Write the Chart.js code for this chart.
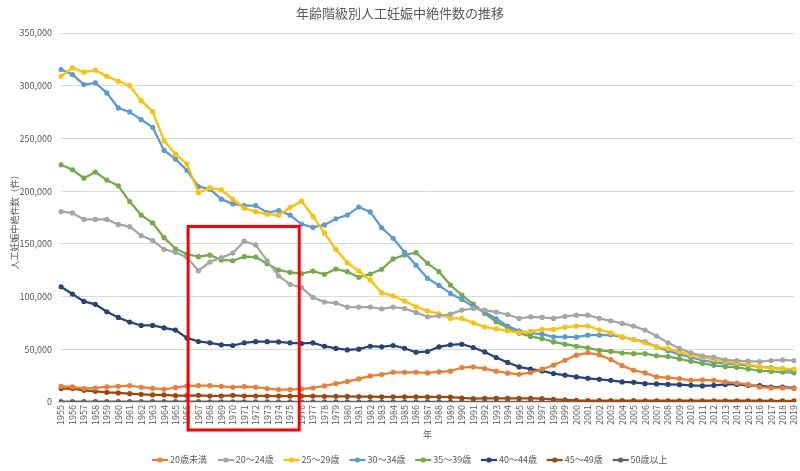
<!DOCTYPE html>
<html lang="ja">
<head>
<meta charset="utf-8">
<script src="https://cdn.jsdelivr.net/npm/chart.js@4.4.1/dist/chart.umd.min.js"></script>
<style>
html,body{margin:0;padding:0;background:#fff;}
#wrap{width:800px;height:471px;position:relative;}
</style>
</head>
<body>
<div id="wrap"><canvas id="c" width="800" height="471"></canvas></div>
<script>
const years = [];
for (let y = 1955; y <= 2019; y++) years.push(String(y));

const seriesNames = ["20歳未満","20～24歳","25～29歳","30～34歳","35～39歳","40～44歳","45～49歳","50歳以上"];
const seriesColors = ["#ED7D31","#A5A5A5","#FFC000","#5B9BD5","#70AD47","#264478","#9E480E","#636363"];

const under20 = [14900,14300,12700,13300,14300,14900,15600,14000,13000,12100,13700,15200,15600,15600,14900,14000,14600,14000,12700,11800,11800,12400,13300,15200,17500,19400,21900,24700,26000,28200,28200,28200,27600,28500,29200,32700,33300,31700,29200,27300,26300,27900,31100,34900,39600,44400,46600,44700,40300,34500,30100,27600,23800,23100,22200,20600,20900,20600,19000,18000,16700,14200,13300,13300,12700];
const age20_24 = [180600,179300,173200,173200,173200,168400,166300,157800,153100,144800,142000,137200,124500,132800,136900,141300,152500,149000,133900,119500,111600,108400,99200,94800,93800,90000,90000,90000,88400,90000,88700,85000,80800,81800,83400,87200,88800,87200,85300,83000,79300,80800,80200,79300,81200,82400,82400,79300,77000,74500,72000,68200,62500,56100,50800,46600,43700,42500,39900,39300,38700,38400,39300,39900,39300];
const age25_29 = [309000,316900,312800,314700,309000,304200,300100,285800,275400,247800,235200,225700,198700,203100,201200,192400,183800,180600,178100,177200,184500,190500,176200,160100,144900,132100,124200,115700,103600,100800,95700,90300,86500,83700,79300,79300,75100,71300,69400,67500,65900,66900,68800,68800,71000,72000,72000,68500,65600,61800,59300,56100,52300,50700,47600,44400,42200,40300,38100,37100,35800,33300,32400,31700,31100];
const age30_34 = [315300,310600,301100,302700,293200,278900,275100,267800,260500,238600,230400,219600,204400,201900,192400,188000,186300,186300,179600,181600,177300,168700,165700,168000,173800,177300,184900,180300,165300,155300,142000,129700,117300,110600,103000,97300,90300,85300,78900,72000,67500,65300,64300,61800,61800,61500,63400,63400,63700,61500,59300,57000,52300,48500,45300,42200,39600,37700,36400,35800,34800,33300,32600,31100,29500];
const age35_39 = [225000,220300,212300,218100,210500,205100,190100,177300,169900,155900,145200,140400,137800,139400,134700,134000,137800,137500,131200,125200,123000,121700,124200,121100,126100,123600,118300,121400,125900,135700,139500,141600,131500,123600,110900,101400,92900,84000,76100,70500,65300,62200,60200,57000,54800,52900,51300,49000,48000,46500,45800,45800,43800,43100,40900,38600,36700,34800,33500,32900,31300,29700,29000,28400,27700];
const age40_44 = [109300,102400,95400,92600,85600,80200,75800,72600,72600,70300,68200,60800,57400,56100,54200,53600,56100,57200,57200,57000,56100,55500,56100,52900,50800,49400,50100,52900,52300,53600,51000,47200,47900,52300,54200,54800,51700,47500,42200,37500,33300,31100,29500,27000,25400,23800,22500,21500,20600,19000,18700,17400,17100,16700,16400,15800,15200,15800,16700,16700,15800,15500,14200,14200,13300];
const age45_49 = [12700,12700,11100,10100,9200,8600,7900,7300,6700,6700,6000,6000,6300,5700,5700,6300,5700,5700,5700,5600,5600,5600,5600,5400,5400,5300,5100,5000,4900,4900,4900,4900,4800,4800,4600,3800,3300,3500,3500,3500,3500,3400,3200,2500,2100,1500,1400,1400,1300,1300,1300,1200,1200,1200,1200,1200,1200,1200,1200,1200,1200,1200,1100,1100,1100];
const age50plus = [400,400,400,400,400,350,350,350,300,300,300,300,300,250,250,250,250,200,200,200,200,200,150,150,150,150,150,150,120,120,120,120,100,100,100,100,80,80,80,80,70,70,60,60,50,50,50,40,40,40,40,40,30,30,30,30,30,30,30,30,30,30,30,30,30];

const seriesValues = [under20, age20_24, age25_29, age30_34, age35_39, age40_44, age45_49, age50plus];
const yTicks = [0,50000,100000,150000,200000,250000,300000,350000];

const titleText = "年齢階級別人工妊娠中絶件数の推移";
const yTitle = "人工妊娠中絶件数（件）";
const xTitle = "年";
// highlighted span (category index range and value top)
const highlight = {fromIndex: 11.1, toIndex: 20.8, topValue: 166500};

const FONT = "'Noto Sans CJK JP', 'Noto Sans', sans-serif";
const TXT = "#595959";

const datasets = seriesNames.map((n, i) => ({
  label: n,
  data: seriesValues[i],
  borderColor: seriesColors[i],
  backgroundColor: seriesColors[i],
  borderWidth: 2.25,
  pointRadius: 2.6,
  pointHoverRadius: 2.6,
  pointBorderWidth: 0,
  pointBackgroundColor: seriesColors[i],
  tension: 0,
  order: i
}));

const decor = {
  id: 'decor',
  afterDatasetsDraw(chart) {
    const ctx = chart.ctx;
    const xs = chart.scales.x, ys = chart.scales.y;
    ctx.save();
    ctx.strokeStyle = "#FF0000";
    ctx.lineWidth = 3;
    const l = xs.getPixelForValue(highlight.fromIndex);
    const r = xs.getPixelForValue(highlight.toIndex);
    const t = ys.getPixelForValue(highlight.topValue);
    const b = ys.getPixelForValue(0) + 28;
    ctx.strokeRect(l, t, r - l, b - t);
    ctx.restore();
  },
  afterDraw(chart) {
    const ctx = chart.ctx;
    const ca = chart.chartArea;
    ctx.save();
    ctx.fillStyle = TXT;
    ctx.font = "13px " + FONT;
    ctx.textAlign = "center";
    ctx.textBaseline = "middle";
    ctx.fillText(titleText, 400, 13);
    ctx.font = "9px " + FONT;
    ctx.save();
    ctx.translate(15, 220);
    ctx.rotate(-Math.PI / 2);
    ctx.fillText(yTitle, 0, 0);
    ctx.restore();
    ctx.fillText(xTitle, (ca.left + ca.right) / 2, 435);
    const step = 65.8;
    const x0 = 152;
    const ly = 460;
    ctx.textAlign = "left";
    seriesNames.forEach((n, i) => {
      const x = x0 + i * step;
      ctx.strokeStyle = seriesColors[i];
      ctx.lineWidth = 2.25;
      ctx.beginPath();
      ctx.moveTo(x, ly);
      ctx.lineTo(x + 16, ly);
      ctx.stroke();
      ctx.fillStyle = seriesColors[i];
      ctx.beginPath();
      ctx.arc(x + 8, ly, 2.6, 0, Math.PI * 2);
      ctx.fill();
      ctx.fillStyle = TXT;
      ctx.fillText(n, x + 18, ly);
    });
    ctx.restore();
  }
};

new Chart(document.getElementById('c'), {
  type: 'line',
  data: { labels: years, datasets },
  options: {
    responsive: false,
    animation: false,
    events: [],
    layout: { padding: { left: 0, right: 6, top: 33, bottom: 0 } },
    plugins: { legend: { display: false }, title: { display: false }, tooltip: { enabled: false } },
    scales: {
      x: {
        type: 'category',
        offset: false,
        grid: { display: false, drawTicks: false },
        border: { display: true, color: "#d9d9d9" },
        ticks: {
          autoSkip: false, maxRotation: 90, minRotation: 90,
          color: TXT, font: { size: 9, family: FONT }, padding: 3
        },
        afterFit(s) { s.height = 69; s.paddingLeft = 0; s.paddingRight = 0; }
      },
      y: {
        min: 0, max: 350000,
        afterBuildTicks(s) { s.ticks = yTicks.map(v => ({ value: v })); },
        grid: { color: "#d9d9d9", lineWidth: 1, drawTicks: false },
        border: { display: false },
        ticks: {
          color: TXT, font: { size: 9, family: FONT }, padding: 9,
          callback: v => v.toLocaleString('en-US')
        },
        afterFit(s) { s.width = 61; s.paddingTop = 0; s.paddingBottom = 0; }
      }
    }
  },
  plugins: [decor]
});
</script>
</body>
</html>
